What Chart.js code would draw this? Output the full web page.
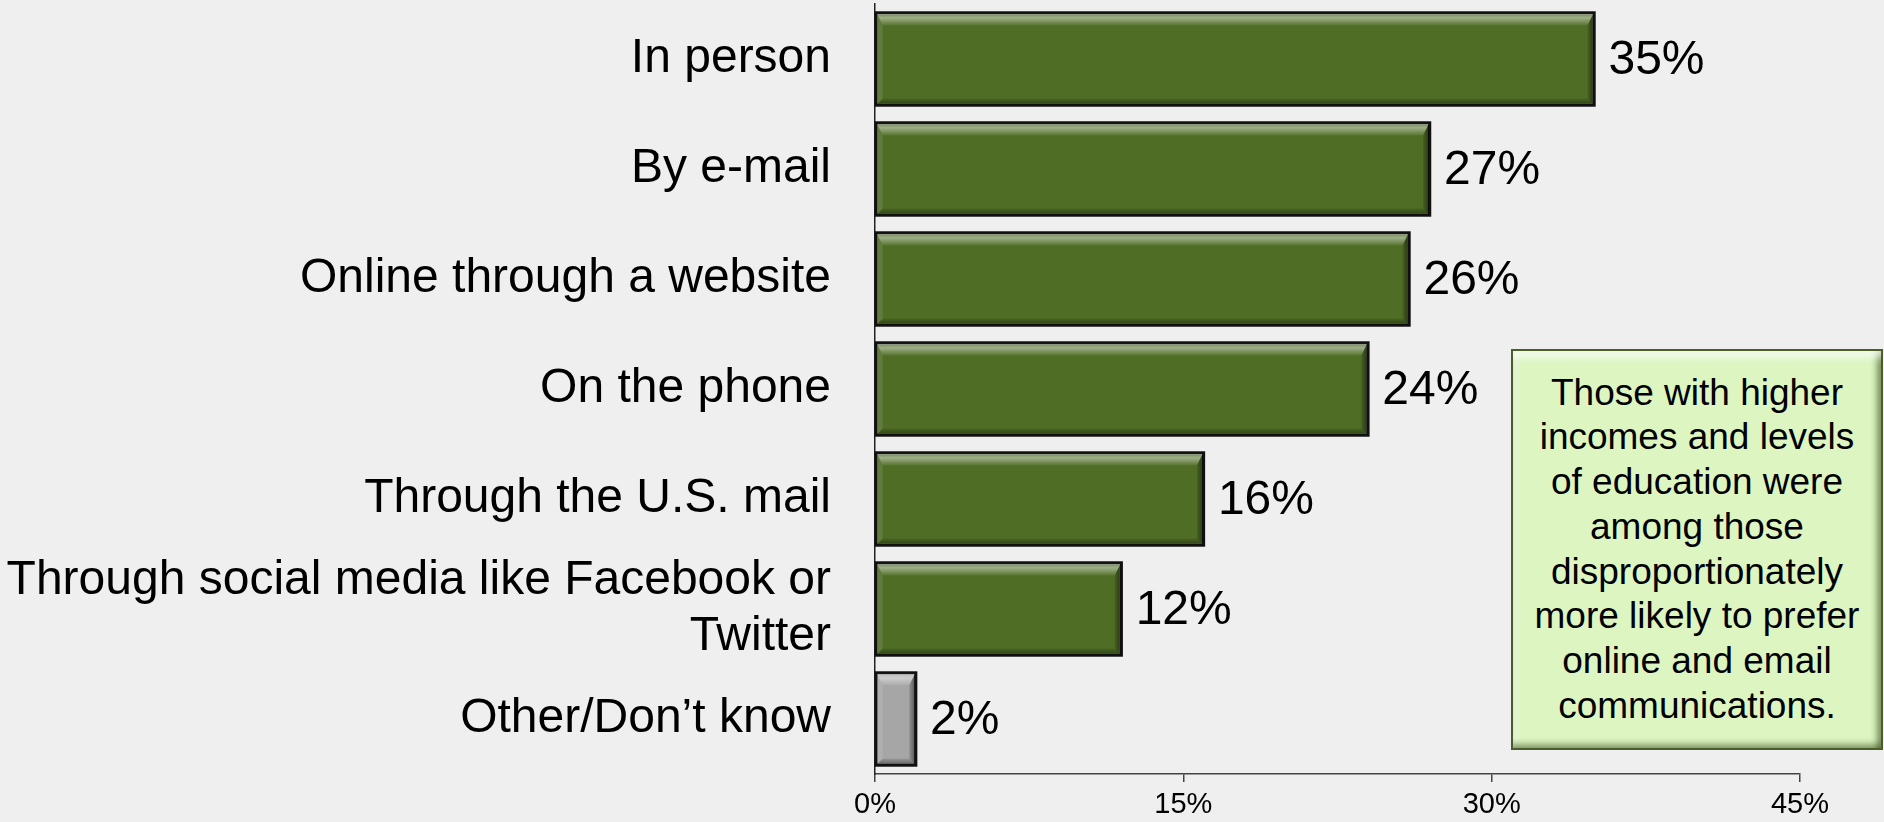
<!DOCTYPE html>
<html>
<head>
<meta charset="utf-8">
<script src="https://cdn.jsdelivr.net/npm/chart.js@4"></script>
<style>
  html, body { margin: 0; padding: 0; background: #efefef; overflow: hidden; }
  #wrap { position: relative; width: 1884px; height: 822px; }
  #note {
    position: absolute; left: 1511px; top: 349px; width: 368px; height: 397px;
    background: #dcf5c1; border: 2px solid #4b5e29;
    box-shadow: inset 0 12px 8px -6px rgba(255,255,255,0.75),
                inset -7px 0 6px -3px rgba(40,60,10,0.55),
                inset 0 -7px 6px -3px rgba(40,60,10,0.45),
                inset 6px 0 6px -3px rgba(255,255,255,0.5);
    display: flex; align-items: center; justify-content: center;
    font-family: "Liberation Sans", Arial, sans-serif; font-size: 37px;
    line-height: 44.7px; text-align: center; color: #000;
  }
</style>
</head>
<body>
<div id="wrap">
  <canvas id="chart" width="1884" height="822"></canvas>
  <div id="note">Those with higher<br>incomes and levels<br>of education were<br>among those<br>disproportionately<br>more likely to prefer<br>online and email<br>communications.</div>
</div>
<script>
const categories = [
  "In person",
  "By e-mail",
  "Online through a website",
  "On the phone",
  "Through the U.S. mail",
  ["Through social media like Facebook or", "Twitter"],
  "Other/Don\u2019t know"
];
const values = [35, 27, 26, 24, 16, 12, 2];
const barColors = ["#4f6d25", "#4f6d25", "#4f6d25", "#4f6d25", "#4f6d25", "#4f6d25", "#a6a6a6"];
const xTicks = [0, 15, 30, 45];

  //Bevel + value labels

const bevelPlugin = {
  id: "bevel",
  afterDatasetsDraw(chart) {
    const ctx = chart.ctx;
    const meta = chart.getDatasetMeta(0);
    meta.data.forEach((bar, i) => {
      const l = bar.base + 1, r = bar.x - 1;
      const t = bar.y - bar.height / 2 + 1, b = bar.y + bar.height / 2 - 1;
      const bt = 12, bs = 6;
      ctx.save();
      // top
      let g = ctx.createLinearGradient(0, t, 0, t + bt);
      g.addColorStop(0, "rgba(255,255,255,0.2)");
      g.addColorStop(0.35, "rgba(255,255,255,0.45)");
      g.addColorStop(1, "rgba(255,255,255,0.05)");
      ctx.fillStyle = g;
      ctx.beginPath();
      ctx.moveTo(l, t); ctx.lineTo(r, t); ctx.lineTo(r - bs, t + bt); ctx.lineTo(l + bs, t + bt);
      ctx.closePath(); ctx.fill();
      // bottom
      g = ctx.createLinearGradient(0, b - bs, 0, b);
      g.addColorStop(0, "rgba(0,0,0,0.08)");
      g.addColorStop(1, "rgba(0,0,0,0.4)");
      ctx.fillStyle = g;
      ctx.beginPath();
      ctx.moveTo(l, b); ctx.lineTo(r, b); ctx.lineTo(r - bs, b - bs); ctx.lineTo(l + bs, b - bs);
      ctx.closePath(); ctx.fill();
      // right
      g = ctx.createLinearGradient(r - bs, 0, r, 0);
      g.addColorStop(0, "rgba(0,0,0,0.1)");
      g.addColorStop(1, "rgba(0,0,0,0.5)");
      ctx.fillStyle = g;
      ctx.beginPath();
      ctx.moveTo(r, t); ctx.lineTo(r, b); ctx.lineTo(r - bs, b - bs); ctx.lineTo(r - bs, t + bt);
      ctx.closePath(); ctx.fill();
      // left
      ctx.fillStyle = "rgba(255,255,255,0.1)";
      ctx.beginPath();
      ctx.moveTo(l, t); ctx.lineTo(l, b); ctx.lineTo(l + bs, b - bs); ctx.lineTo(l + bs, t + bt);
      ctx.closePath(); ctx.fill();
      // border again
      ctx.strokeStyle = "#111";
      ctx.lineWidth = 2.5;
      ctx.strokeRect(bar.base, bar.y - bar.height / 2, bar.x - bar.base, bar.height);
      // value label
      ctx.fillStyle = "#000";
      ctx.font = "48px 'Liberation Sans', Arial, sans-serif";
      ctx.textAlign = "left";
      ctx.textBaseline = "middle";
      ctx.fillText(values[i] + "%", bar.x + 14, bar.y + 2);
      ctx.restore();
    });
  }
};

new Chart(document.getElementById("chart"), {
  type: "bar",
  data: {
    labels: categories,
    datasets: [{
      data: values,
      backgroundColor: barColors,
      borderColor: "#111",
      borderWidth: 2,
      borderSkipped: false,
      categoryPercentage: 1,
      barPercentage: 0.845
    }]
  },
  options: {
    indexAxis: "y",
    responsive: false,
    animation: false,
    layout: { padding: { top: 4, right: 84, left: 0, bottom: 0 } },
    plugins: { legend: { display: false }, tooltip: { enabled: false } },
    scales: {
      x: {
        min: 0,
        max: 45,
        afterBuildTicks: scale => { scale.ticks = xTicks.map(v => ({ value: v })); },
        afterFit: scale => { scale.height = 48; scale.paddingLeft = 0; scale.paddingRight = 0; },
        grid: { drawOnChartArea: false, drawTicks: true, tickLength: 8, color: "#444", lineWidth: 1.5 },
        border: { display: true, color: "#444", width: 1.5 },
        ticks: {
          padding: 6,
          color: "#000",
          maxRotation: 0,
          autoSkip: false,
          font: { family: "'Liberation Sans Narrow', 'Arial Narrow', 'Liberation Sans', Arial", size: 29 },
          callback: v => v + "%"
        }
      },
      y: {
        afterFit: scale => { scale.width = 875; scale.paddingTop = 0; scale.paddingBottom = 0; },
        grid: { display: false, drawTicks: false },
        border: { display: true, color: "#222", width: 1.5 },
        ticks: {
          padding: 44,
          color: "#000",
          autoSkip: false,
          font: { family: "'Liberation Sans', Arial, sans-serif", size: 48, lineHeight: 1.17 }
        }
      }
    }
  },
  plugins: [bevelPlugin]
});
</script>
</body>
</html>
